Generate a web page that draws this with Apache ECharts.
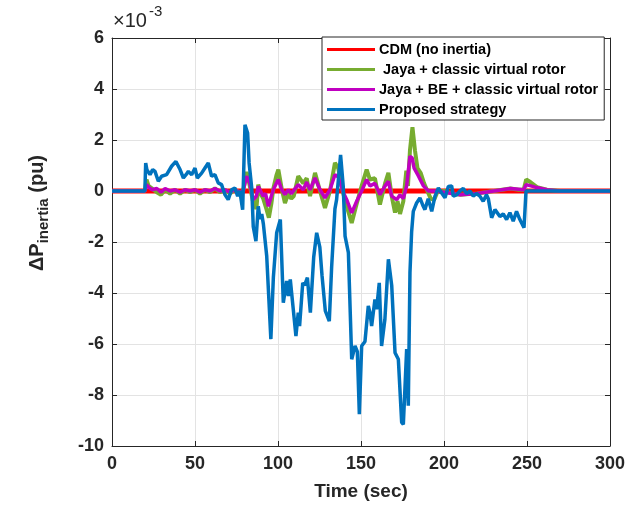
<!DOCTYPE html>
<html>
<head>
<meta charset="utf-8">
<script src="https://cdn.jsdelivr.net/npm/echarts/dist/echarts.min.js"></script>
<style>
  * { margin: 0; padding: 0; }
  html, body { width: 100%; height: 100%; background: #fff; }
  #chart { width: 639px; height: 506px; }
</style>
</head>
<body>
<div id="chart"></div>
<script>
// values in units of 1e-3 pu
var legendNames = ['CDM (no inertia)', ' Jaya + classic virtual rotor', 'Jaya + BE + classic virtual rotor', 'Proposed strategy']

var cdmT = [0, 300]
var cdmV = [0, 0]

var jayaT = [0, 19.8, 20.8, 22, 24, 27, 29.5, 32, 35, 38, 41, 44, 47, 50, 53, 56, 59, 62, 65, 68, 71, 74, 77, 79,
  81.1, 83, 85.1, 87, 88.1, 89.5, 91.1, 93, 94.5, 96, 97.2, 99, 100.2, 102.2, 104.2, 106.2, 108, 109.5,
  112.2, 115.2, 117.3, 119.3, 122.3, 125.3, 128.3, 131.3, 134.3, 136.3, 139.3, 141.4, 144.4, 147.4, 150.4,
  153.4, 155.4, 158.4, 161.4, 164.5, 166.5, 168.5, 170.5, 172, 173.5, 175.5, 177.3, 178.3, 179.5, 181, 182.5,
  184, 186, 188, 190, 192, 194, 196, 200, 205, 210, 215, 220, 225, 230, 235, 240, 245, 248, 249.5, 252, 256, 262, 270, 300]
var jayaV = [0, 0, 0.45, 0.2, 0.1, -0.05, -0.15, 0.05, -0.1, 0.05, -0.1, 0.05, -0.05, 0.05, -0.1, 0.05, -0.05, 0.1, -0.05, 0.05, -0.1, 0.05, -0.05, 0,
  0.75, 0.2, -0.45, -0.7, 0.25, -0.1, -0.3, -0.7, -1.05, -0.5, 0.1, 0.6, 0.84, 0.1, -0.47, -0.1, -0.3, -0.2,
  0.58, 0.3, 0.5, -0.2, 0.71, 0, -0.66, 0, 1.1, 0.9, -0.1, -0.6, -1.25, -0.5, 0.2,
  0.84, 0.45, 0.5, -0.53, 0.3, 0.71, -0.2, -0.85, -0.4, -0.9, -0.4, 0.8, 0.2, 1.6, 2.5, 1.6,
  0.9, 0.7, 0.3, 0, -0.3, -0.35, -0.05, 0, -0.1, -0.15, -0.12, -0.1, -0.05, 0, 0.05, 0.1, 0.05, 0.05, 0.45, 0.35, 0.15, 0.05, 0, 0]

var jayaBeT = [0, 19.8, 20.8, 22, 24, 27, 29.5, 32, 35, 38, 41, 44, 47, 50, 53, 56, 59, 62, 65, 68, 71, 74, 77, 79,
  81.1, 83, 85.1, 87, 88.1, 89.5, 91.1, 92.5, 94.2, 96, 97.2, 99, 100.2, 102.2, 104.2, 106.2, 108, 109.2,
  112.2, 115.2, 117.3, 119.3, 122.3, 125.3, 128.3, 131.3, 134.3, 136.3, 139.3, 141.4, 144.4, 147.4, 150.4,
  153.4, 155.4, 158.4, 161.4, 164.5, 166.5, 168.5, 171.5, 173.5, 175.5, 177.5, 179.5, 180.8, 182, 184.5,
  187.6, 190.6, 195, 200, 210, 220, 230, 240, 248, 249.5, 255, 262, 270, 300]
var jayaBeV = [0, 0, 0.25, 0.15, 0.05, 0.1, -0.05, 0.1, 0, 0.05, -0.05, 0.05, 0, 0.05, -0.05, 0.05, 0, 0.1, 0, 0.05, -0.05, 0.05, -0.05, 0,
  0.58, 0.3, -0.34, -0.2, 0.18, 0, -0.2, -0.1, -0.6, -0.2, 0.05, 0.3, 0.45, 0.05, -0.14, 0.05, -0.1, -0.14,
  0.25, 0.05, 0.35, 0.05, 0.51, 0.05, -0.27, 0.05, 0.64, 0.55, -0.05, -0.34, -0.86, -0.4, 0,
  0.45, 0.2, 0.3, -0.14, 0.2, 0.38, -0.2, -0.34, -0.15, -0.3, 0.2, 1.36, 1.3, 0.9, 0.6,
  0.2, 0, 0, -0.05, -0.15, -0.1, 0, 0.1, 0.05, 0.25, 0.15, 0.05, 0, 0]

var propT = [0, 19.8, 20.3, 21, 22.9, 24.5, 25.9, 27.9, 29.9, 32.9, 35.9, 38.5, 41, 43, 44.6, 46, 48, 50, 51.4, 54, 56, 58,
  60, 62, 64, 66, 68, 70, 72, 74, 75.7, 77, 78.7, 80.1, 81.7, 82.6, 84.2, 85.1, 86.7, 88.1, 89.2, 90.2, 91.2,
  93.2, 95.7, 97.2, 99.2, 101.4, 103.2, 105.2, 106.2, 107.4, 109.2, 110.8, 112.2, 113, 114.9, 116, 117.7,
  119.5, 121.5, 123.3, 125.2, 126.5, 128.5, 130.9, 132.3, 134.3, 135.3, 137.7, 139.3, 140.4, 142.4, 144.4,
  146.4, 147.8, 149, 150.4, 152.4, 154.4, 155.4, 156.4, 158.4, 159.4, 161, 162.4, 164.4, 166.5, 168.5,
  170.5, 172.5, 174.5, 175.5, 176.5, 177.5, 178.5, 179.5, 180.5, 181.5, 183.5, 185.5, 187.5, 188.5, 190.5,
  192.6, 194.6, 196.6, 198.6, 200.6, 202.6, 204.6, 205.6, 207.6, 209.6, 211.6, 213.6, 215.6, 217.6, 219.6,
  221.6, 223.6, 225.6, 226.7, 228.7, 230.7, 233.7, 235.7, 237.7, 239.7, 241.7, 243.7, 245.7, 248.2, 249.4, 300]
var propV = [0, 0, 1.1, 0.84, 0.64, 0.84, 0.77, 0.38, 0.58, 0.64, 0.97, 1.16, 0.84, 0.51, 0.64, 0.77, 0.64, 0.9, 0.51, 0.7, 0.9, 1.1,
  0.58, 0.64, 0.32, 0.25, -0.14, -0.34, 0.05, 0.12, -0.2, 0, -0.73, 2.6, 2.27, 1.1, 0.1, -1.4, -1.97, -0.6, -1.1, -0.9, -1.3,
  -2.55, -5.81, -3.4, -1.64, -1.12, -4.38, -3.53, -4.12, -3.47, -4.64, -5.69, -4.77, -5.3, -3.6, -3.7, -3.4,
  -4.77, -2.6, -1.64, -2.2, -3.3, -4.7, -5.1, -3.0, -0.7, -0.34, 1.42, 0.18, -1.77, -2.42, -6.6,
  -6.08, -6.3, -8.75, -6.08, -5.9, -4.51, -4.77, -5.3, -4.25, -4.64, -3.6, -6.08, -5.03, -2.68, -3.7,
  -6.34, -6.6, -9.07, -9.15, -7.7, -6.2, -8.42, -3.2, -1.6, -0.8, -0.47, -0.27, -0.6, -0.73, -0.3,
  -0.8, -0.2, 0.12, -0.08, -0.27, 0.18, 0.2, -0.2, -0.15, 0, 0.1, -0.1, 0, -0.2, -0.1,
  -0.2, -0.4, -0.15, -0.3, -1.05, -0.73, -1.0, -0.9, -1.12, -0.85, -1.18, -0.8, -1.12, -1.44, 0, 0]

var xTicks = { min: 0, max: 300, interval: 50 }
var yTicks = { min: -10, max: 6, interval: 2 }

function pairs(t, v) {
  return t.map(function(x, i) { return [x, v[i]] })
}

var font = 'Liberation Sans, Arial, Helvetica, sans-serif'
var chart = echarts.init(document.getElementById('chart'))

var baseX = {
  type: 'value', min: xTicks.min, max: xTicks.max, interval: xTicks.interval,
  axisLine: { show: true, onZero: false, lineStyle: { color: '#262626', width: 1 } },
  axisTick: { show: true, inside: true, length: 5, lineStyle: { color: '#262626' } }
}
var baseY = {
  type: 'value', min: yTicks.min, max: yTicks.max, interval: yTicks.interval,
  axisLine: { show: true, onZero: false, lineStyle: { color: '#262626', width: 1 } },
  axisTick: { show: true, inside: true, length: 5, lineStyle: { color: '#262626' } }
}

var options = {
  animation: false,
  backgroundColor: '#fff',
  grid: { left: 112, top: 38, right: 29, bottom: 59 },
  xAxis: [
    Object.assign({}, baseX, {
      position: 'bottom',
      axisLabel: { color: '#262626', fontSize: 18, fontWeight: 'bold', fontFamily: font, margin: 9 },
      splitLine: { show: true, lineStyle: { color: '#e3e3e3', width: 1 } },
      name: 'Time (sec)',
      nameLocation: 'middle',
      nameGap: 36,
      nameTextStyle: { color: '#262626', fontSize: 19, fontWeight: 'bold', fontFamily: font }
    }),
    Object.assign({}, baseX, { position: 'top', axisLabel: { show: false }, splitLine: { show: false } })
  ],
  yAxis: [
    Object.assign({}, baseY, {
      position: 'left',
      axisLabel: { color: '#262626', fontSize: 18, fontWeight: 'bold', fontFamily: font, margin: 8 },
      splitLine: { show: true, lineStyle: { color: '#e3e3e3', width: 1 } }
    }),
    Object.assign({}, baseY, { position: 'right', axisLabel: { show: false }, splitLine: { show: false } })
  ],
  legend: {
    orient: 'vertical',
    left: 322,
    top: 37,
    padding: [4, 6, 2, 5],
    icon: 'rect',
    itemWidth: 48,
    itemHeight: 3,
    itemGap: 3,
    backgroundColor: '#fff',
    borderColor: '#262626',
    borderWidth: 1,
    borderRadius: 0,
    textStyle: { color: '#000', fontSize: 14.5, lineHeight: 17, fontWeight: 'bold', fontFamily: font, padding: [0, 0, 0, -1] },
    data: legendNames
  },
  graphic: [
    { type: 'text', left: 113, top: 11, style: { text: '×10', fontSize: 20, fontFamily: font, fill: '#262626' } },
    { type: 'text', left: 149, top: 4, style: { text: '-3', fontSize: 15, fontFamily: font, fill: '#262626' } },
    {
      type: 'text', x: 37, y: 213, rotation: Math.PI / 2,
      style: {
        text: '{a|ΔP}{b|inertia}{a| (pu)}',
        align: 'center', verticalAlign: 'middle',
        rich: {
          a: { fontSize: 20, fontWeight: 'bold', fontFamily: font, fill: '#262626' },
          b: { fontSize: 15, fontWeight: 'bold', fontFamily: font, fill: '#262626', padding: [14, 0, 0, 0] }
        }
      }
    }
  ],
  series: [
    {
      name: legendNames[0], type: 'line', symbol: 'none', data: pairs(cdmT, cdmV),
      lineStyle: { color: '#ff0000', width: 5 }, itemStyle: { color: '#ff0000' }
    },
    {
      name: legendNames[1], type: 'line', symbol: 'none', data: pairs(jayaT, jayaV),
      lineStyle: { color: '#77ac30', width: 4 }, itemStyle: { color: '#77ac30' }
    },
    {
      name: legendNames[2], type: 'line', symbol: 'none', data: pairs(jayaBeT, jayaBeV),
      lineStyle: { color: '#c000c0', width: 3.5 }, itemStyle: { color: '#c000c0' }
    },
    {
      name: legendNames[3], type: 'line', symbol: 'none', data: pairs(propT, propV),
      lineStyle: { color: '#0072bd', width: 3.5 }, itemStyle: { color: '#0072bd' }
    }
  ]
}
chart.setOption(options)
</script>
</body>
</html>
